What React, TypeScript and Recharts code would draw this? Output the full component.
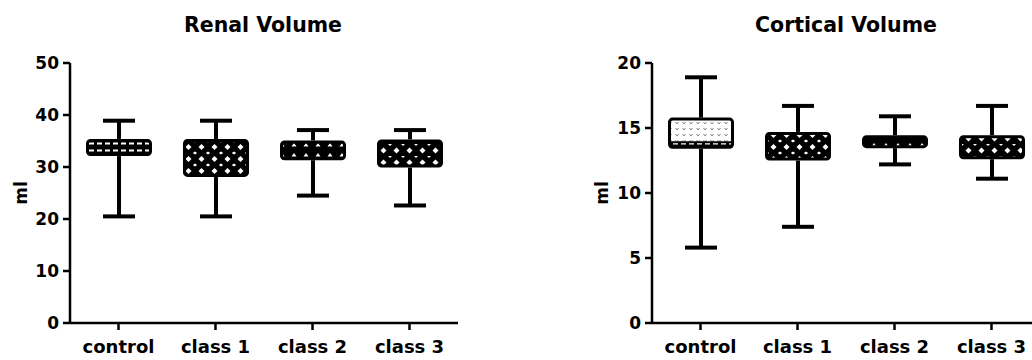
import React from "react";
import { ComposedChart, Bar, XAxis, YAxis } from "recharts";

const groups = ["control", "class 1", "class 2", "class 3"];

// Renal volume (ml)
const renalMin = [20.5, 20.5, 24.5, 22.6];
const renalQ1 = [32.1, 28.1, 31.3, 29.9];
const renalMedian = [33.5, 32.0, 33.6, 32.6];
const renalQ3 = [35.4, 35.4, 35.1, 35.3];
const renalMax = [38.9, 38.9, 37.1, 37.1];
const renalTicks = [0, 10, 20, 30, 40, 50];

// Cortical volume (ml)
const corticalMin = [5.8, 7.4, 12.2, 11.1];
const corticalQ1 = [13.4, 12.5, 13.45, 12.6];
const corticalMedian = [13.9, 13.6, 13.9, 13.6];
const corticalQ3 = [15.8, 14.7, 14.45, 14.45];
const corticalMax = [18.9, 16.7, 15.9, 16.7];
const corticalTicks = [0, 5, 10, 15, 20];

// fill pattern of each box
const renalFills = ["bands", "diamond", "tri", "diamond2"];
const corticalFills = ["stipple", "diamond", "tri", "diamond2"];

const FONT = "DejaVu Sans";

function buildRows(mins: number[], q1s: number[], meds: number[], q3s: number[], maxs: number[], fills: string[]) {
  return groups.map((name, i) => ({
    name,
    min: mins[i],
    q1: q1s[i],
    median: meds[i],
    q3: q3s[i],
    max: maxs[i],
    base: mins[i],
    lower: q1s[i] - mins[i],
    box: q3s[i] - q1s[i],
    upper: maxs[i] - q3s[i],
    fill: fills[i],
  }));
}

const renalRows = buildRows(renalMin, renalQ1, renalMedian, renalQ3, renalMax, renalFills);
const corticalRows = buildRows(corticalMin, corticalQ1, corticalMedian, corticalQ3, corticalMax, corticalFills);

const Whisker = (props: any) => {
  const { x, y, width, height, low } = props;
  const cx = x + width / 2;
  const capY = low ? y + height : y;
  return (
    <g>
      <line x1={cx} x2={cx} y1={y} y2={y + height} stroke="#000" strokeWidth={4} />
      <line x1={cx - 16} x2={cx + 16} y1={capY} y2={capY} stroke="#000" strokeWidth={4} />
    </g>
  );
};

const BoxShape = (props: any) => {
  const { x, y, width, height, payload } = props;
  const frac = (payload.q3 - payload.median) / (payload.q3 - payload.q1);
  const my = y + height * frac;
  if (payload.fill === "stipple") {
    return (
      <g>
        <rect x={x + 1.5} y={y + 1.5} width={width - 3} height={my - y} fill="url(#stipple)" />
        <rect x={x + 1.5} y={my} width={width - 3} height={y + height - my - 1.5} fill="url(#bands)" />
        <line x1={x + 1.5} x2={x + width - 1.5} y1={my} y2={my} stroke="#000" strokeWidth={2} />
        <rect x={x + 1.5} y={y + 1.5} width={width - 3} height={height - 3} rx={3} fill="none" stroke="#000" strokeWidth={3} />
      </g>
    );
  }
  return (
    <rect x={x + 1.5} y={y + 1.5} width={width - 3} height={height - 3} rx={3} fill={`url(#${payload.fill})`} stroke="#000" strokeWidth={3} />
  );
};

const tickStyle = { fill: "#000", fontSize: 17, fontWeight: "bold", fontFamily: FONT };
const xTickStyle = { fill: "#000", fontSize: 18, fontWeight: "bold", fontFamily: FONT };
const axisStroke = { stroke: "#000", strokeWidth: 2.5 };

function BoxChart(props: { rows: any[]; ticks: number[]; top: number; left: number; yWidth: number }) {
  const { rows, ticks, top, left, yWidth } = props;
  return (
    <div style={{ position: "absolute", left, top: 0 }}>
      <ComposedChart
        width={yWidth + 388 + (left === 0 ? 62 : 0)}
        height={360}
        data={rows}
        margin={{ top: 63, right: left === 0 ? 62 : 0, bottom: 0, left: 0 }}
        barSize={66}
      >
        <XAxis
          dataKey="name"
          height={37}
          tickSize={7}
          tickMargin={10}
          axisLine={axisStroke}
          tickLine={axisStroke}
          tick={xTickStyle}
          interval={0}
        />
        <YAxis
          type="number"
          domain={[0, top]}
          ticks={ticks}
          width={yWidth}
          tickSize={7}
          tickMargin={4}
          axisLine={axisStroke}
          tickLine={axisStroke}
          tick={tickStyle}
          interval={0}
        />
        <Bar dataKey="base" stackId="b" isAnimationActive={false} shape={() => <g />} />
        <Bar dataKey="lower" stackId="b" isAnimationActive={false} shape={(p: any) => <Whisker {...p} low />} />
        <Bar dataKey="box" stackId="b" isAnimationActive={false} shape={(p: any) => <BoxShape {...p} />} />
        <Bar dataKey="upper" stackId="b" isAnimationActive={false} shape={(p: any) => <Whisker {...p} />} />
      </ComposedChart>
    </div>
  );
}

export default function App() {
  return (
    <div style={{ position: "absolute", left: 0, top: 0, width: 1032, height: 360, overflow: "hidden", background: "#fff" }}>
      <BoxChart rows={renalRows} ticks={renalTicks} top={50} left={0} yWidth={70} />
      <BoxChart rows={corticalRows} ticks={corticalTicks} top={20} left={520} yWidth={132} />
      <svg width={1032} height={360} style={{ position: "absolute", left: 0, top: 0, pointerEvents: "none" }}>
        <defs>
          <pattern id="diamond" width={13} height={12} patternUnits="userSpaceOnUse">
            <rect width={13} height={12} fill="#000" />
            <path d="M6.5 0 L9.5 3 L6.5 6 L3.5 3 Z" fill="#fff" />
            <path d="M0 7.5 L2.2 9 L0 10.5 Z M13 7.5 L10.8 9 L13 10.5 Z" fill="#fff" />
          </pattern>
          <pattern id="diamond2" width={13} height={12} patternUnits="userSpaceOnUse">
            <rect width={13} height={12} fill="#000" />
            <path d="M6.5 3.5 L9.5 6.5 L6.5 9.5 L3.5 6.5 Z" fill="#fff" />
            <path d="M0 0 L2 0 L0 2 Z M13 0 L11 0 L13 2 Z" fill="#fff" />
          </pattern>
          <pattern id="tri" width={12} height={10} patternUnits="userSpaceOnUse">
            <rect width={12} height={10} fill="#000" />
            <path d="M3.5 6.5 L8.5 6.5 L6 3 Z" fill="#fff" />
          </pattern>
          <pattern id="bands" width={8} height={7} patternUnits="userSpaceOnUse">
            <rect width={8} height={7} fill="#000" />
            <rect x={1} y={2.5} width={5} height={2} fill="#fff" />
          </pattern>
          <pattern id="stipple" width={7} height={6} patternUnits="userSpaceOnUse">
            <rect width={7} height={6} fill="#fff" />
            <path d="M1.5 2 L3 4 L4.5 2" fill="none" stroke="#777" strokeWidth={0.9} />
          </pattern>
        </defs>
        <text x={263} y={32} textAnchor="middle" fontFamily={FONT} fontWeight="bold" fontSize={20.5} fill="#000">
          Renal Volume
        </text>
        <text x={846} y={32} textAnchor="middle" fontFamily={FONT} fontWeight="bold" fontSize={20.5} fill="#000">
          Cortical Volume
        </text>
        <text x={27} y={193} transform="rotate(-90 27 193)" textAnchor="middle" fontFamily={FONT} fontWeight="bold" fontSize={17} fill="#000">
          ml
        </text>
        <text x={608} y={193} transform="rotate(-90 608 193)" textAnchor="middle" fontFamily={FONT} fontWeight="bold" fontSize={17} fill="#000">
          ml
        </text>
      </svg>
    </div>
  );
}
